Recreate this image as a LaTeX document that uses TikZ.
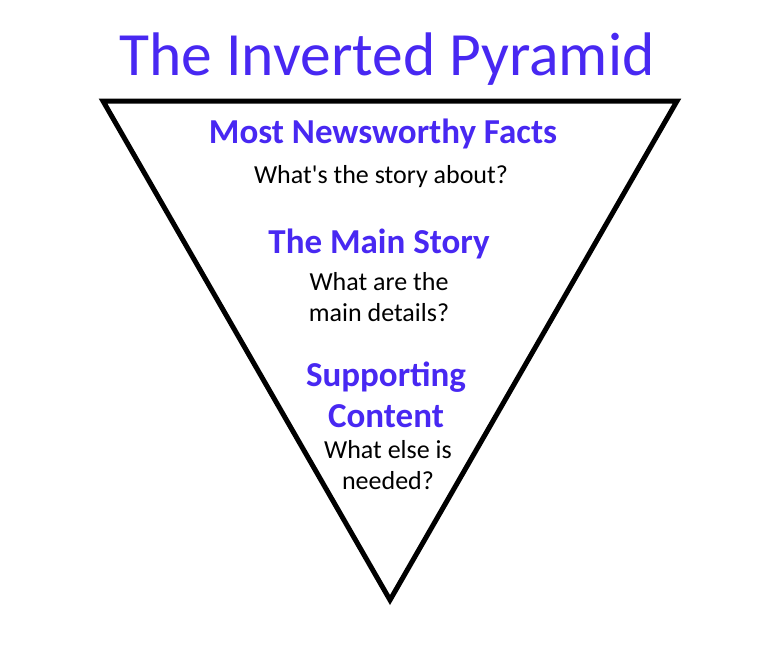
\documentclass[tikz,border=0pt]{standalone}
\usepackage{fontspec}
\setmainfont{Carlito}[Ligatures=TeXOff]
\definecolor{headblue}{RGB}{72,40,242}
\begin{document}
\begin{tikzpicture}[x=1pt,y=-1pt,
  title/.style={text=headblue,font=\fontsize{61.5}{66}\selectfont},
  head/.style={text=headblue,font=\fontsize{35}{41}\selectfont\bfseries,align=center},
  body/.style={text=black,font=\fontsize{26}{31}\selectfont,align=center},
  tri/.style={draw=black,line width=5pt,line join=miter,fill=white}]
\useasboundingbox (0,0) rectangle (775,662);
\fill[white] (0,0) rectangle (775,662);
\coordinate (tl) at (103,101);
\coordinate (tr) at (677,101);
\coordinate (ap) at (390,600);
\draw[tri] (tl) -- (tr) -- (ap) -- cycle;
\node[title] (t) at (387,59) {The Inverted Pyramid};
\node[head] (h1) at (383,134) {Most Newsworthy Facts};
\node[body] (b1) at (381,177) {What's the story about?};
\node[head] (h2) at (379,244) {The Main Story};
\node[body] (b2) at (379,297) {What are the\\main details?};
\node[head] (h3) at (386,395) {Supporting\\Content};
\node[body] (b3) at (388,465) {What else is\\needed?};
\end{tikzpicture}
\end{document}
